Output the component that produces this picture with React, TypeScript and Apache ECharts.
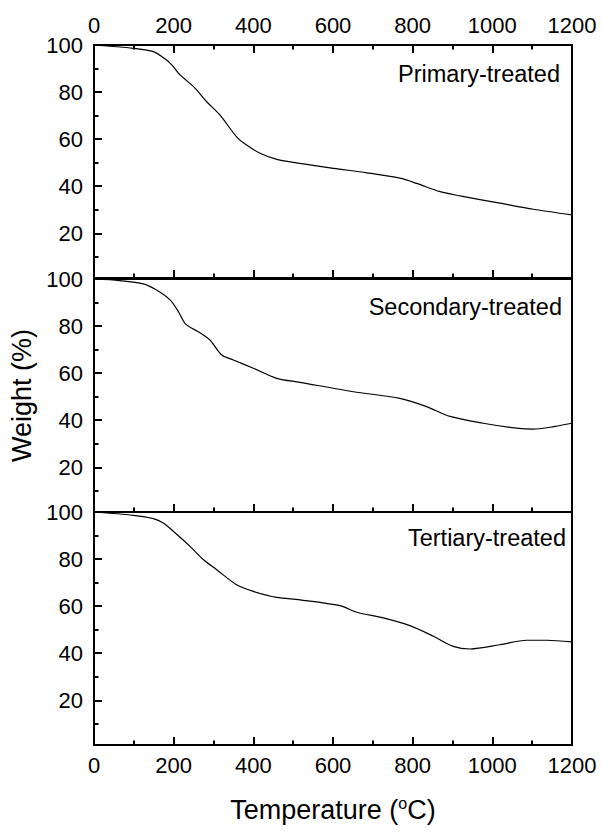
import React, { useEffect, useRef } from "react";
import * as echarts from "echarts";

// ---- Data ----
const primaryTemp = [0, 99, 149, 182, 199, 216, 250, 283, 316, 358, 383, 417, 459, 517, 601, 685, 768, 810, 869, 919, 1019, 1103, 1200];
const primaryWeight = [100, 98.6, 97.2, 93.6, 90.8, 87.3, 82.3, 75.9, 70.3, 61, 57.5, 54, 51.4, 49.7, 47.6, 45.7, 43.4, 41.2, 37.7, 35.9, 32.8, 30.2, 27.8];

const secondaryTemp = [0, 65, 124, 157, 191, 212, 228, 241, 266, 291, 321, 350, 400, 459, 517, 651, 768, 835, 894, 977, 1061, 1103, 1145, 1200];
const secondaryWeight = [100, 99.3, 97.9, 95.3, 91.1, 86.1, 81.2, 79.5, 77.2, 74.1, 67.7, 65.6, 62.1, 57.8, 56.1, 52.1, 49.3, 45.8, 41.6, 38.7, 36.6, 36.2, 37, 38.7];

const tertiaryTemp = [0, 99, 149, 174, 199, 241, 275, 308, 358, 400, 459, 517, 618, 660, 726, 793, 852, 902, 944, 1019, 1086, 1136, 1200];
const tertiaryWeight = [100, 98.6, 97.2, 95.3, 91.8, 85.4, 79.7, 75.5, 69.1, 66.3, 63.7, 62.7, 60.2, 57.4, 55, 51.7, 47.2, 42.9, 41.8, 43.6, 45.5, 45.5, 44.8];

const panelLabels = ["Primary-treated", "Secondary-treated", "Tertiary-treated"];
const yMajorTicks = [20, 40, 60, 80, 100];
const yMinorTicks = [10, 30, 50, 70, 90];
const xMin = 0;
const xMax = 1200;
const xInterval = 200;
const yMin = 1;
const yMax = 100;

const FONT = "'Liberation Sans', Arial, Helvetica, sans-serif";

export default function App() {
  const ref = useRef<HTMLDivElement>(null);

  useEffect(() => {
    document.body.style.margin = "0";
    if (!ref.current) return;
    const chart = echarts.init(ref.current, undefined, { renderer: "svg" });

    const gridTops = [45, 279, 512];
    const gridH = 233;
    const grids = gridTops.map((top) => ({
      left: 94,
      right: 30,
      top,
      height: gridH,
      show: true,
      borderColor: "#000",
      borderWidth: 2,
      backgroundColor: "transparent",
    }));

    const plain = (v: number) => String(v);

    const baseX = (gridIndex: number, position: string, showLabel: boolean) => ({
      type: "value",
      gridIndex,
      position,
      min: xMin,
      max: xMax,
      interval: xInterval,
      axisLine: { show: true, onZero: false, lineStyle: { color: "#000", width: 2 } },
      axisTick: { show: true, inside: true, length: 8, lineStyle: { color: "#000", width: 2 } },
      minorTick: { show: true, splitNumber: 2, length: 4.5, lineStyle: { color: "#000", width: 2 } },
      splitLine: { show: false },
      axisLabel: {
        show: showLabel,
        color: "#000",
        fontSize: 22,
        fontFamily: FONT,
        margin: 9,
        showMinLabel: true,
        showMaxLabel: true,
        formatter: plain,
      },
    });

    const xAxes: any[] = [
      baseX(0, "bottom", false),
      baseX(0, "top", true),
      baseX(1, "bottom", false),
      {
        ...baseX(2, "bottom", true),
        name: "{m|Temperature (}{s|o}{m|C)}",
        nameLocation: "middle",
        nameGap: 50,
        nameTextStyle: {
          rich: {
            m: { fontSize: 27, fontFamily: FONT, color: "#000", lineHeight: 30 },
            s: { fontSize: 16, fontFamily: FONT, color: "#000", verticalAlign: "top", lineHeight: 30 },
          },
        },
      },
    ];

    const yAxes: any[] = [];
    [0, 1, 2].forEach((g) => {
      const major: any = {
        type: "value",
        gridIndex: g,
        position: "left",
        min: yMin,
        max: yMax,
        axisLine: { show: true, onZero: false, lineStyle: { color: "#000", width: 2 } },
        axisTick: { show: true, inside: true, length: 8, customValues: yMajorTicks, lineStyle: { color: "#000", width: 2 } },
        splitLine: { show: false },
        axisLabel: {
          show: true,
          customValues: yMajorTicks,
          color: "#000",
          fontSize: 22,
          fontFamily: FONT,
          margin: 11,
          formatter: plain,
        },
      };
      if (g === 1) {
        major.name = "Weight (%)";
        major.nameLocation = "middle";
        major.nameGap = 52;
        major.nameTextStyle = { fontSize: 27, fontFamily: FONT, color: "#000" };
      }
      yAxes.push(major);
      yAxes.push({
        type: "value",
        gridIndex: g,
        position: "left",
        min: yMin,
        max: yMax,
        axisLine: { show: false },
        axisTick: { show: true, inside: true, length: 4.5, customValues: yMinorTicks, lineStyle: { color: "#000", width: 2 } },
        splitLine: { show: false },
        axisLabel: { show: false },
      });
    });

    const mk = (t: number[], w: number[]) => t.map((v, i) => [v, w[i]]);
    const lineSeries = (data: number[][], xi: number, yi: number, name: string) => ({
      type: "line",
      name,
      xAxisIndex: xi,
      yAxisIndex: yi,
      data,
      smooth: 0.3,
      showSymbol: false,
      symbol: "none",
      lineStyle: { color: "#000", width: 1.2 },
      z: 5,
    });

    const labelPos = [
      { x: 560, y: 74 },
      { x: 562, y: 307 },
      { x: 566, y: 538 },
    ];

    chart.setOption({
      animation: false,
      backgroundColor: "#fff",
      grid: grids,
      xAxis: xAxes,
      yAxis: yAxes,
      series: [
        lineSeries(mk(primaryTemp, primaryWeight), 0, 0, panelLabels[0]),
        lineSeries(mk(secondaryTemp, secondaryWeight), 2, 2, panelLabels[1]),
        lineSeries(mk(tertiaryTemp, tertiaryWeight), 3, 4, panelLabels[2]),
      ],
      graphic: panelLabels.map((txt, i) => ({
        type: "text",
        x: labelPos[i].x,
        y: labelPos[i].y,
        style: {
          text: txt,
          fontSize: 23.5,
          fontFamily: FONT,
          fill: "#000",
          textAlign: "right",
          textVerticalAlign: "middle",
        },
      })),
    });

    return () => chart.dispose();
  }, []);

  return <div ref={ref} style={{ width: 602, height: 832 }} />;
}
